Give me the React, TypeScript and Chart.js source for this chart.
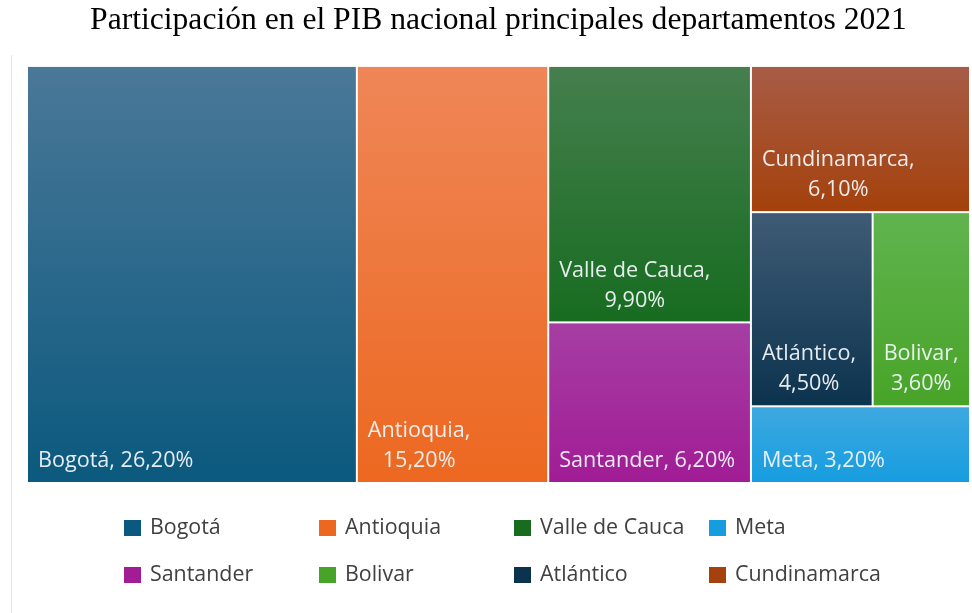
import React, { useEffect, useRef } from 'react';
import { Chart, registerables } from 'chart.js';

Chart.register(...registerables);

// ---- data ----
const categories = ['Bogotá', 'Antioquia', 'Valle de Cauca', 'Santander', 'Cundinamarca', 'Atlántico', 'Bolivar', 'Meta'];
const values = [26.2, 15.2, 9.9, 6.2, 6.1, 4.5, 3.6, 3.2];
const valueLabels = ['26,20%', '15,20%', '9,90%', '6,20%', '6,10%', '4,50%', '3,60%', '3,20%'];
const topColors = ['#4a7898', '#ef8657', '#457f4e', '#a63ea3', '#a85c46', '#3f5b75', '#60b44e', '#3ea8e1'];
const bottomColors = ['#0b597e', '#ec6820', '#176c20', '#a11c95', '#a4410c', '#0c334e', '#48a428', '#169ddf'];
// treemap nesting (category indices); levels alternate columns / rows
const groups: any[] = [0, 1, [2, 3], [4, [5, 6], 7]];
// legend order (category indices), 4 per row
const legendOrder = [0, 1, 2, 7, 3, 6, 5, 4];
const title = 'Participación en el PIB nacional principales departamentos 2021';

type Rect = { i: number; x0: number; x1: number; y0: number; y1: number };

function nodeSum(n: any): number {
  return typeof n === 'number' ? values[n] : n.reduce((s: number, c: any) => s + nodeSum(c), 0);
}

function layout(nodes: any[], x0: number, y0: number, x1: number, y1: number, horizontal: boolean, out: Rect[]) {
  const total = nodes.reduce((s, c) => s + nodeSum(c), 0);
  let acc = 0;
  for (const n of nodes) {
    const f0 = acc / total;
    acc += nodeSum(n);
    const f1 = acc / total;
    const r = horizontal
      ? { x0: x0 + (x1 - x0) * f0, x1: x0 + (x1 - x0) * f1, y0, y1 }
      : { x0, x1, y0: y0 + (y1 - y0) * f0, y1: y0 + (y1 - y0) * f1 };
    if (typeof n === 'number') out.push({ i: n, ...r });
    else layout(n, r.x0, r.y0, r.x1, r.y1, !horizontal, out);
  }
}

const LABEL_FONT = '21.6px "Open Sans"';
const LEGEND_FONT = '21.4px "Open Sans"';

const treemapPlugin = {
  id: 'treemapCells',
  afterDatasetsDraw(chart: any) {
    const { ctx, scales } = chart;
    const xs = scales.x;
    const ys = scales.y;
    const rects: Rect[] = [];
    layout(groups, 0, 0, 1, 1, true, rects);
    ctx.save();
    for (const r of rects) {
      const px0 = xs.getPixelForValue(r.x0) + 1;
      const px1 = xs.getPixelForValue(r.x1) - 1;
      const py0 = ys.getPixelForValue(r.y0) + 1;
      const py1 = ys.getPixelForValue(r.y1) - 1;
      const g = ctx.createLinearGradient(0, py0, 0, py1);
      g.addColorStop(0, topColors[r.i]);
      g.addColorStop(1, bottomColors[r.i]);
      ctx.fillStyle = g;
      ctx.fillRect(px0, py0, px1 - px0, py1 - py0);

      // label
      ctx.font = LABEL_FONT;
      ctx.fillStyle = 'rgba(240,244,248,0.95)';
      ctx.textBaseline = 'middle';
      ctx.textAlign = 'center';
      const full = categories[r.i] + ', ' + valueLabels[r.i];
      const w = px1 - px0;
      let lines = [full];
      if (ctx.measureText(full).width > w - 20) lines = [categories[r.i] + ',', valueLabels[r.i]];
      const maxW = Math.max(...lines.map((l) => ctx.measureText(l).width));
      const cx = px0 + 10 + maxW / 2;
      const lastY = py1 - 21;
      lines.forEach((l, k) => {
        ctx.fillText(l, cx, lastY - (lines.length - 1 - k) * 30);
      });
    }
    ctx.restore();
  },
  afterDraw(chart: any) {
    const { ctx } = chart;
    ctx.save();
    // faint frame line at the left
    ctx.strokeStyle = '#dfe7ef';
    ctx.lineWidth = 1;
    ctx.beginPath();
    ctx.moveTo(11.5, 55);
    ctx.lineTo(11.5, 613);
    ctx.stroke();
    // legend
    ctx.font = LEGEND_FONT;
    ctx.textBaseline = 'middle';
    ctx.textAlign = 'left';
    legendOrder.forEach((idx, k) => {
      const col = k % 4;
      const row = Math.floor(k / 4);
      const bx = 124 + col * 195;
      const by = 528 + row * 47;
      ctx.fillStyle = bottomColors[idx];
      ctx.fillRect(bx, by - 8, 17, 16);
      ctx.fillStyle = '#404040';
      ctx.fillText(categories[idx], bx + 26, by);
    });
    ctx.restore();
  },
};

export default function App() {
  const ref = useRef<HTMLCanvasElement | null>(null);
  useEffect(() => {
    document.body.style.margin = '0';
    const chart = new Chart(ref.current as HTMLCanvasElement, {
      type: 'scatter',
      data: { datasets: [{ label: 'PIB', data: [] }] },
      options: {
        animation: false,
        responsive: false,
        maintainAspectRatio: false,
        layout: { padding: { left: 27, right: 2, top: 0, bottom: 130 } },
        scales: {
          x: { type: 'linear', min: 0, max: 1, display: false },
          y: { type: 'linear', min: 0, max: 1, reverse: true, display: false },
        },
        plugins: {
          legend: { display: false },
          tooltip: { enabled: false },
          title: {
            display: true,
            text: title,
            color: '#000000',
            font: { family: '"Liberation Serif", "Times New Roman", serif', size: 31.6, weight: 'normal' },
            padding: { top: 2, bottom: 26 },
          },
        },
      },
      plugins: [treemapPlugin],
    } as any);
    return () => chart.destroy();
  }, []);
  return (
    <div style={{ width: 972, height: 613, overflow: 'hidden', background: '#fff' }}>
      <canvas ref={ref} width={972} height={613} style={{ display: 'block' }} />
    </div>
  );
}
